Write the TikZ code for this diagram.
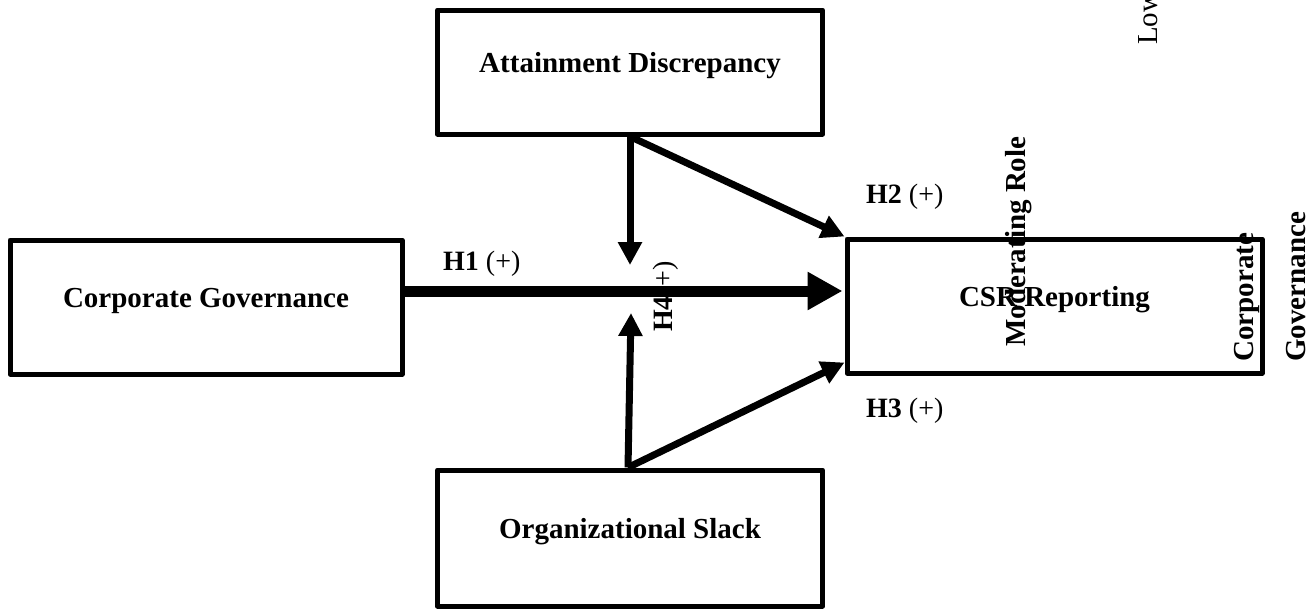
\documentclass[tikz,border=0pt]{standalone}
\usepackage{fontspec}
\setmainfont{Liberation Serif}
\usetikzlibrary{arrows.meta}
\begin{document}
\begin{tikzpicture}[x=1pt,y=-1pt,
  box/.style={draw, line width=5pt, line join=round, inner sep=0pt,
    text height=10pt, text depth=10pt,
    font=\fontsize{29}{34}\selectfont\bfseries},
  hyp/.style={inner sep=0pt, anchor=base west,
    font=\fontsize{28}{32}\selectfont},
  vlabel/.style={inner sep=0pt, anchor=base west, rotate=90,
    font=\fontsize{29}{34}\selectfont\bfseries},
  mainpath/.style={line width=11pt, shorten >=2pt,
    -{Triangle[length=35pt,width=36pt]}},
  link/.style={line width=7pt, -{Triangle[length=23pt,width=23pt]}}]
\useasboundingbox (0,0) rectangle (1315,614);
\clip (0,0) rectangle (1315,614);

% constructs
\node[box, minimum width=392pt, minimum height=134pt] (cg)  at (206,307)    {Corporate Governance};
\node[box, minimum width=385pt, minimum height=124pt] (ad)  at (630,72)     {Attainment Discrepancy};
\node[box, minimum width=385pt, minimum height=136pt] (os)  at (630,538)    {Organizational Slack};
\node[box, minimum width=415pt, minimum height=134pt] (csr) at (1054.5,306) {CSR Reporting};

% hypothesis labels
\node[hyp] (h1) at (443,270) {\textbf{H1} (+)};
\node[hyp] (h2) at (866,203) {\textbf{H2} (+)};
\node[hyp] (h3) at (866,417) {\textbf{H3} (+)};
\node[hyp, rotate=90] (h4) at (672,332) {\textbf{H4}(+)};

% rotated side texts
\node[vlabel] (mod)  at (1025,347) {Moderating Role};
\node[vlabel] (corp) at (1253,362) {Corporate};
\node[vlabel] (gov)  at (1305,362) {Governance};
\node[vlabel, font=\fontsize{29}{34}\selectfont] (low) at (1157,45) {Low};

% paths
\coordinate (dtip) at (630,265);
\coordinate (utip) at (631,313);
\draw[mainpath] ([yshift=16pt]cg.east) -- ([yshift=15pt]csr.west);
\draw[link] (ad.south) -- (dtip);
\draw[link] (ad.south) -- (csr.north west);
\draw[link] ([xshift=-2pt]os.north) -- (utip);
\draw[link] ([xshift=-2pt]os.north) -- ([yshift=13pt]csr.south west);
\end{tikzpicture}
\end{document}
